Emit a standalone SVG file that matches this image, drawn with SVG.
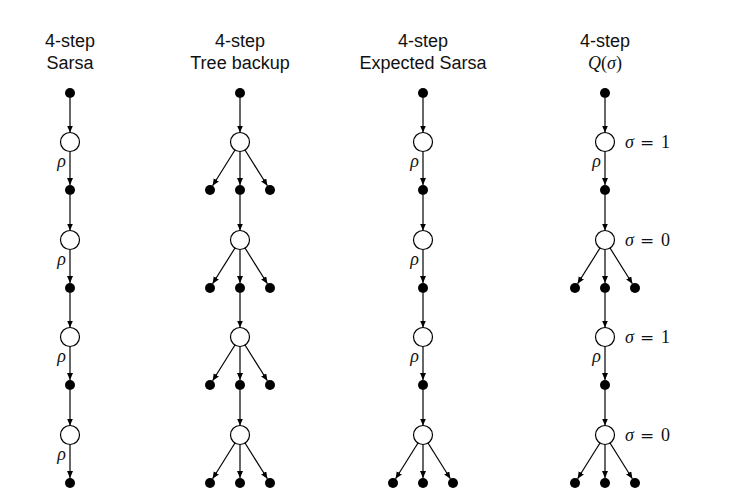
<svg xmlns="http://www.w3.org/2000/svg" width="733" height="498" viewBox="0 0 733 498">
<style>
.t{font-family:"Liberation Sans",Arial,sans-serif;font-size:18px;fill:#111;text-anchor:middle}
.m{font-family:"Liberation Serif","Times New Roman",serif;font-size:18px;fill:#111}
.i{font-style:italic}
.d{fill:#000}
.s{fill:#fff;stroke:#000;stroke-width:1.2}
.e line{stroke:#000;stroke-width:1.2;marker-end:url(#ah)}
</style>
<defs>
<marker id="ah" markerUnits="userSpaceOnUse" markerWidth="8" markerHeight="7" refX="7" refY="3" orient="auto">
<path d="M0,0 L7,3 L0,6 z" fill="#000"/>
</marker>
</defs>
<rect width="733" height="498" fill="#fff"/>
<g id="titles">
<text class="t" x="70" y="47">4-step</text><text class="t" x="70" y="69">Sarsa</text>
<text class="t" x="240" y="47">4-step</text><text class="t" x="240" y="69">Tree backup</text>
<text class="t" x="423" y="47">4-step</text><text class="t" x="423" y="69">Expected Sarsa</text>
<text class="t" x="605" y="47">4-step</text>
<text class="m" x="605" y="69" text-anchor="middle" font-size="20"><tspan class="i">Q</tspan>(<tspan class="i">σ</tspan>)</text>
</g>
<g id="connectors" class="e">
<!-- Sarsa -->
<line x1="70" y1="98" x2="70" y2="132.5"/><line x1="70" y1="151.5" x2="70" y2="185"/>
<line x1="70" y1="195" x2="70" y2="230.5"/><line x1="70" y1="249.5" x2="70" y2="283"/>
<line x1="70" y1="293" x2="70" y2="327.5"/><line x1="70" y1="346.5" x2="70" y2="380"/>
<line x1="70" y1="390" x2="70" y2="425.5"/><line x1="70" y1="444.5" x2="70" y2="478"/>
<!-- Tree backup -->
<line x1="240" y1="98" x2="240" y2="132.5"/><line x1="240" y1="151.5" x2="240" y2="185"/>
<line x1="235" y1="150" x2="212.6" y2="185.8"/><line x1="245" y1="150" x2="267.4" y2="185.8"/>
<line x1="240" y1="195" x2="240" y2="230.5"/><line x1="240" y1="249.5" x2="240" y2="283"/>
<line x1="235" y1="248" x2="212.6" y2="283.8"/><line x1="245" y1="248" x2="267.4" y2="283.8"/>
<line x1="240" y1="293" x2="240" y2="327.5"/><line x1="240" y1="346.5" x2="240" y2="380"/>
<line x1="235" y1="345" x2="212.6" y2="380.8"/><line x1="245" y1="345" x2="267.4" y2="380.8"/>
<line x1="240" y1="390" x2="240" y2="425.5"/><line x1="240" y1="444.5" x2="240" y2="478"/>
<line x1="235" y1="443" x2="212.6" y2="478.8"/><line x1="245" y1="443" x2="267.4" y2="478.8"/>
<!-- Expected Sarsa -->
<line x1="423" y1="98" x2="423" y2="132.5"/><line x1="423" y1="151.5" x2="423" y2="185"/>
<line x1="423" y1="195" x2="423" y2="230.5"/><line x1="423" y1="249.5" x2="423" y2="283"/>
<line x1="423" y1="293" x2="423" y2="327.5"/><line x1="423" y1="346.5" x2="423" y2="380"/>
<line x1="423" y1="390" x2="423" y2="425.5"/><line x1="423" y1="444.5" x2="423" y2="478"/>
<line x1="418" y1="443" x2="395.6" y2="478.8"/><line x1="428" y1="443" x2="450.4" y2="478.8"/>
<!-- Q(sigma) -->
<line x1="605" y1="98" x2="605" y2="132.5"/><line x1="605" y1="151.5" x2="605" y2="185"/>
<line x1="605" y1="195" x2="605" y2="230.5"/><line x1="605" y1="249.5" x2="605" y2="283"/>
<line x1="600" y1="248" x2="577.6" y2="283.8"/><line x1="610" y1="248" x2="632.4" y2="283.8"/>
<line x1="605" y1="293" x2="605" y2="327.5"/><line x1="605" y1="346.5" x2="605" y2="380"/>
<line x1="605" y1="390" x2="605" y2="425.5"/><line x1="605" y1="444.5" x2="605" y2="478"/>
<line x1="600" y1="443" x2="577.6" y2="478.8"/><line x1="610" y1="443" x2="632.4" y2="478.8"/>
</g>
<g id="rho-labels" class="m i">
<text x="66" y="167" text-anchor="end">ρ</text><text x="66" y="265" text-anchor="end">ρ</text>
<text x="66" y="362" text-anchor="end">ρ</text><text x="66" y="460" text-anchor="end">ρ</text>
<text x="419" y="167" text-anchor="end">ρ</text><text x="419" y="265" text-anchor="end">ρ</text>
<text x="419" y="362" text-anchor="end">ρ</text>
<text x="601" y="167" text-anchor="end">ρ</text><text x="601" y="362" text-anchor="end">ρ</text>
</g>
<g id="sigma-labels" class="m">
<text y="148"><tspan x="625" class="i">σ</tspan><tspan x="640" font-family="DejaVu Serif" font-size="17">=</tspan><tspan x="661">1</tspan></text>
<text y="246"><tspan x="625" class="i">σ</tspan><tspan x="640" font-family="DejaVu Serif" font-size="17">=</tspan><tspan x="661">0</tspan></text>
<text y="343"><tspan x="625" class="i">σ</tspan><tspan x="640" font-family="DejaVu Serif" font-size="17">=</tspan><tspan x="661">1</tspan></text>
<text y="441"><tspan x="625" class="i">σ</tspan><tspan x="640" font-family="DejaVu Serif" font-size="17">=</tspan><tspan x="661">0</tspan></text>
</g>
<!-- Sarsa nodes -->
<g id="sarsa-s0"><circle class="d" cx="70" cy="93" r="5"/></g>
<g id="sarsa-a1"><circle class="s" cx="70" cy="142" r="9.5"/></g>
<g id="sarsa-s1"><circle class="d" cx="70" cy="190" r="5"/></g>
<g id="sarsa-a2"><circle class="s" cx="70" cy="240" r="9.5"/></g>
<g id="sarsa-s2"><circle class="d" cx="70" cy="288" r="5"/></g>
<g id="sarsa-a3"><circle class="s" cx="70" cy="337" r="9.5"/></g>
<g id="sarsa-s3"><circle class="d" cx="70" cy="385" r="5"/></g>
<g id="sarsa-a4"><circle class="s" cx="70" cy="435" r="9.5"/></g>
<g id="sarsa-s4"><circle class="d" cx="70" cy="483" r="5"/></g>
<!-- Tree backup nodes -->
<g id="tree-s0"><circle class="d" cx="240" cy="93" r="5"/></g>
<g id="tree-a1"><circle class="s" cx="240" cy="142" r="9.5"/></g>
<g id="tree-s1l"><circle class="d" cx="210" cy="190" r="5"/></g>
<g id="tree-s1"><circle class="d" cx="240" cy="190" r="5"/></g>
<g id="tree-s1r"><circle class="d" cx="270" cy="190" r="5"/></g>
<g id="tree-a2"><circle class="s" cx="240" cy="240" r="9.5"/></g>
<g id="tree-s2l"><circle class="d" cx="210" cy="288" r="5"/></g>
<g id="tree-s2"><circle class="d" cx="240" cy="288" r="5"/></g>
<g id="tree-s2r"><circle class="d" cx="270" cy="288" r="5"/></g>
<g id="tree-a3"><circle class="s" cx="240" cy="337" r="9.5"/></g>
<g id="tree-s3l"><circle class="d" cx="210" cy="385" r="5"/></g>
<g id="tree-s3"><circle class="d" cx="240" cy="385" r="5"/></g>
<g id="tree-s3r"><circle class="d" cx="270" cy="385" r="5"/></g>
<g id="tree-a4"><circle class="s" cx="240" cy="435" r="9.5"/></g>
<g id="tree-s4l"><circle class="d" cx="210" cy="483" r="5"/></g>
<g id="tree-s4"><circle class="d" cx="240" cy="483" r="5"/></g>
<g id="tree-s4r"><circle class="d" cx="270" cy="483" r="5"/></g>
<!-- Expected Sarsa nodes -->
<g id="exp-s0"><circle class="d" cx="423" cy="93" r="5"/></g>
<g id="exp-a1"><circle class="s" cx="423" cy="142" r="9.5"/></g>
<g id="exp-s1"><circle class="d" cx="423" cy="190" r="5"/></g>
<g id="exp-a2"><circle class="s" cx="423" cy="240" r="9.5"/></g>
<g id="exp-s2"><circle class="d" cx="423" cy="288" r="5"/></g>
<g id="exp-a3"><circle class="s" cx="423" cy="337" r="9.5"/></g>
<g id="exp-s3"><circle class="d" cx="423" cy="385" r="5"/></g>
<g id="exp-a4"><circle class="s" cx="423" cy="435" r="9.5"/></g>
<g id="exp-s4l"><circle class="d" cx="393" cy="483" r="5"/></g>
<g id="exp-s4"><circle class="d" cx="423" cy="483" r="5"/></g>
<g id="exp-s4r"><circle class="d" cx="453" cy="483" r="5"/></g>
<!-- Q(sigma) nodes -->
<g id="qs-s0"><circle class="d" cx="605" cy="93" r="5"/></g>
<g id="qs-a1"><circle class="s" cx="605" cy="142" r="9.5"/></g>
<g id="qs-s1"><circle class="d" cx="605" cy="190" r="5"/></g>
<g id="qs-a2"><circle class="s" cx="605" cy="240" r="9.5"/></g>
<g id="qs-s2l"><circle class="d" cx="575" cy="288" r="5"/></g>
<g id="qs-s2"><circle class="d" cx="605" cy="288" r="5"/></g>
<g id="qs-s2r"><circle class="d" cx="635" cy="288" r="5"/></g>
<g id="qs-a3"><circle class="s" cx="605" cy="337" r="9.5"/></g>
<g id="qs-s3"><circle class="d" cx="605" cy="385" r="5"/></g>
<g id="qs-a4"><circle class="s" cx="605" cy="435" r="9.5"/></g>
<g id="qs-s4l"><circle class="d" cx="575" cy="483" r="5"/></g>
<g id="qs-s4"><circle class="d" cx="605" cy="483" r="5"/></g>
<g id="qs-s4r"><circle class="d" cx="635" cy="483" r="5"/></g>
</svg>
